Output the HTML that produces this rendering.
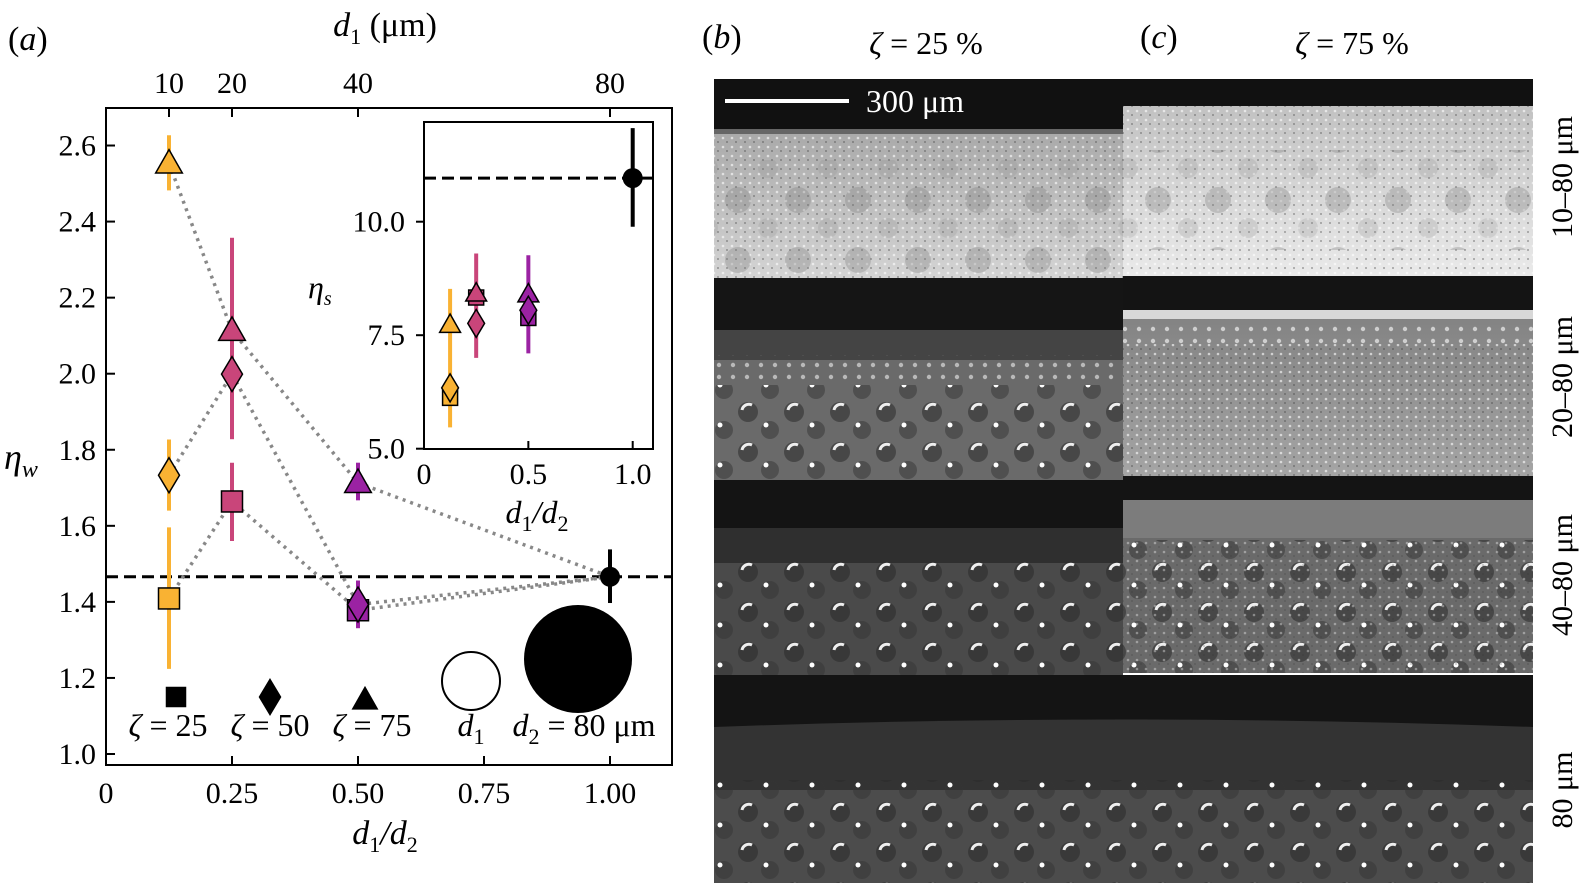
<!DOCTYPE html>
<html><head><meta charset="utf-8"><style>
body{margin:0;background:#fff;width:1580px;height:883px;overflow:hidden;font-family:"Liberation Serif",serif}
svg{position:absolute;left:0;top:0}
text{font-family:"Liberation Serif","DejaVu Serif",serif;fill:#000}
</style></head><body>
<svg id="fig" width="1580" height="883" viewBox="0 0 1580 883">
<defs>
<pattern id="bub" width="46" height="40" patternUnits="userSpaceOnUse">
<circle cx="12" cy="12" r="10" fill="#2a2a2a" opacity="0.55"/><path d="M6 10 a7 7 0 0 1 10 -5" stroke="#eee" stroke-width="3" fill="none"/>
<circle cx="34" cy="30" r="9" fill="#333" opacity="0.5"/><circle cx="30" cy="25" r="2.5" fill="#fff"/>
</pattern>
<pattern id="spots" width="60" height="60" patternUnits="userSpaceOnUse">
<circle cx="18" cy="20" r="13" fill="#777" opacity="0.3"/><circle cx="48" cy="48" r="10" fill="#888" opacity="0.2"/>
</pattern>
<pattern id="small" width="14" height="12" patternUnits="userSpaceOnUse">
<circle cx="5" cy="5" r="2.2" fill="#eee"/>
</pattern>
<pattern id="speck" width="9" height="9" patternUnits="userSpaceOnUse">
<circle cx="3" cy="3" r="1.3" fill="#fff" opacity="0.6"/><circle cx="7" cy="7" r="1" fill="#333" opacity="0.4"/>
</pattern>
<linearGradient id="g1" x1="0" y1="0" x2="0" y2="1"><stop offset="0" stop-color="#9a9a9a"/><stop offset="1" stop-color="#d4d4d4"/></linearGradient>
<linearGradient id="g2" x1="0" y1="0" x2="0" y2="1"><stop offset="0" stop-color="#bbb"/><stop offset="1" stop-color="#eaeaea"/></linearGradient>
<linearGradient id="g3" x1="0" y1="0" x2="0" y2="1"><stop offset="0" stop-color="#7a7a7a"/><stop offset="1" stop-color="#a5a5a5"/></linearGradient>
</defs>
<g id="images">
 <g>
  <rect x="714" y="79" width="409" height="199" fill="url(#g1)"/>
  <rect x="714" y="79" width="409" height="50" fill="#111"/>
  <rect x="714" y="129" width="409" height="5" fill="#666"/>
  <rect x="714" y="134" width="409" height="144" fill="url(#speck)"/>
  <rect x="714" y="160" width="409" height="118" fill="url(#spots)"/>
 </g>
 <g>
  <rect x="714" y="278" width="409" height="202" fill="#6a6a6a"/>
  <rect x="714" y="278" width="409" height="52" fill="#151515"/>
  <rect x="714" y="330" width="409" height="30" fill="#444"/>
  <rect x="714" y="355" width="409" height="30" fill="url(#small)" opacity="0.6"/>
  <rect x="714" y="385" width="409" height="95" fill="url(#bub)"/>
 </g>
 <g>
  <rect x="714" y="480" width="409" height="195" fill="#4a4a4a"/>
  <rect x="714" y="480" width="409" height="48" fill="#141414"/>
  <rect x="714" y="528" width="409" height="35" fill="#2f2f2f"/>
  <rect x="714" y="560" width="409" height="115" fill="url(#bub)"/>
 </g>
 <g>
  <rect x="1123" y="79" width="410" height="197" fill="url(#g2)"/>
  <rect x="1123" y="79" width="410" height="27" fill="#111"/>
  <rect x="1123" y="106" width="410" height="170" fill="url(#speck)"/>
  <rect x="1123" y="150" width="410" height="100" fill="url(#spots)"/>
 </g>
 <g>
  <rect x="1123" y="276" width="410" height="200" fill="url(#g3)"/>
  <rect x="1123" y="276" width="410" height="34" fill="#141414"/>
  <rect x="1123" y="310" width="410" height="9" fill="#d8d8d8"/>
  <rect x="1123" y="322" width="410" height="22" fill="url(#small)" opacity="0.7"/>
  <rect x="1123" y="344" width="410" height="132" fill="url(#speck)"/>
 </g>
 <g>
  <rect x="1123" y="476" width="410" height="197" fill="#6a6a6a"/>
  <rect x="1123" y="476" width="410" height="24" fill="#141414"/>
  <rect x="1123" y="500" width="410" height="38" fill="#7c7c7c"/>
  <rect x="1123" y="540" width="410" height="133" fill="url(#bub)"/>
  <rect x="1123" y="540" width="410" height="133" fill="url(#speck)" opacity="0.6"/>
 </g>
 <g>
  <rect x="714" y="675" width="819" height="208" fill="#4c4c4c"/>
  <rect x="714" y="675" width="819" height="52" fill="#141414"/>
  <path d="M714 727 Q1120 712 1533 727 L1533 790 L714 790 Z" fill="#333"/>
  <rect x="714" y="780" width="819" height="103" fill="url(#bub)"/>
 </g>
 <line x1="725" y1="101" x2="849" y2="101" stroke="#fff" stroke-width="4"/>
 <text x="866" y="112" font-size="32" style="fill:#fff">300 μm</text>
</g>
<text x="8" y="50" font-size="34">(<tspan font-style="italic">a</tspan>)</text>
<text x="702" y="48" font-size="34">(<tspan font-style="italic">b</tspan>)</text>
<text x="1140" y="48" font-size="34">(<tspan font-style="italic">c</tspan>)</text>
<text x="926" y="54" font-size="32" text-anchor="middle"><tspan font-style="italic">ζ</tspan> = 25 %</text>
<text x="1352" y="54" font-size="32" text-anchor="middle"><tspan font-style="italic">ζ</tspan> = 75 %</text>
<text transform="translate(1572,177) rotate(-90)" font-size="30" text-anchor="middle">10–80 μm</text>
<text transform="translate(1572,377) rotate(-90)" font-size="30" text-anchor="middle">20–80 μm</text>
<text transform="translate(1572,575) rotate(-90)" font-size="30" text-anchor="middle">40–80 μm</text>
<text transform="translate(1572,790) rotate(-90)" font-size="30" text-anchor="middle">80 μm</text>
<g id="chart"></g>
</svg>
<script>
const xVals=[0.125,0.25,0.5];
const xTicks=[0,0.25,0.5,0.75,1.0];
const xTickLabels=["0","0.25","0.50","0.75","1.00"];
const topTicks=[10,20,40,80];
const yTicks=[1.0,1.2,1.4,1.6,1.8,2.0,2.2,2.4,2.6];
const colors=["#f9b233","#c9457a","#9b22a3"];
const sqVal=[1.409,1.664,1.378];
const sqErr=[[1.224,1.596],[1.56,1.766],[1.331,1.456]];
const diVal=[1.733,1.999,1.393];
const diErr=[[1.64,1.827],[1.828,2.357],[1.331,1.456]];
const trVal=[2.553,2.113,1.713];
const trErr=[[2.482,2.627],[1.828,2.357],[1.667,1.766]];
const refVal=1.466;
const refErr=[1.397,1.538];
const inSq=[6.12,8.33,7.88];
const inDi=[6.34,7.76,8.05];
const inTr=[7.73,8.42,8.4];
const inErr=[[5.47,8.52],[7.0,9.3],[7.1,9.26]];
const inRef=10.96;
const inRefErr=[9.89,12.06];
const inXTicks=[0,0.5,1.0];
const inXLabels=["0","0.5","1.0"];
const inYTicks=[5.0,7.5,10.0];

const NS="http://www.w3.org/2000/svg";
const g=document.getElementById('chart');
function mk(t,a,p){const e=document.createElementNS(NS,t);for(const k in a)e.setAttribute(k,a[k]);(p||g).appendChild(e);return e;}
const X=v=>106+v*504, Y=v=>754-(v-1)*380.3;
const IX=v=>424+v*208.7, IY=v=>448.7-(v-5)*45.4;
const FL=106,FR=672,FT=108,FB=765;

let e=mk('rect',{x:FL,y:FT,width:FR-FL,height:FB-FT,fill:'none',stroke:'#000','stroke-width':2});

xTicks.forEach((v,i)=>{
 e=mk('line',{x1:X(v),x2:X(v),y1:FB,y2:FB-9,stroke:'#000','stroke-width':2});
 
 e=mk('text',{x:X(v),y:803,'font-size':30,'text-anchor':'middle'});e.textContent=xTickLabels[i];
 
});
topTicks.forEach(d=>{
 e=mk('line',{x1:X(d/80),x2:X(d/80),y1:FT,y2:FT+9,stroke:'#000','stroke-width':2});
 
 e=mk('text',{x:X(d/80),y:93,'font-size':30,'text-anchor':'middle'});e.textContent=d;
 
});
yTicks.forEach(v=>{
 e=mk('line',{x1:FL,x2:FL+9,y1:Y(v),y2:Y(v),stroke:'#000','stroke-width':2});
 
 e=mk('text',{x:96,y:Y(v)+10,'font-size':30,'text-anchor':'end'});e.textContent=v.toFixed(1);
 
});
e=mk('text',{x:385,y:844,'font-size':34,'text-anchor':'middle','font-style':'italic'});
e.innerHTML='d<tspan font-size="22" dy="8" font-style="normal">1</tspan><tspan dy="-8">/d</tspan><tspan font-size="22" dy="8" font-style="normal">2</tspan>';

e=mk('text',{x:385,y:36,'font-size':34,'text-anchor':'middle'});
e.innerHTML='<tspan font-style="italic">d</tspan><tspan font-size="22" dy="8">1</tspan><tspan dy="-8"> (μm)</tspan>';

e=mk('text',{x:4,y:469,'font-size':36,'font-style':'italic'});
e.innerHTML='η<tspan font-size="24" dy="8">w</tspan>';


e=mk('line',{x1:FL,x2:FR,y1:Y(refVal),y2:Y(refVal),stroke:'#000','stroke-width':3,'stroke-dasharray':'12,6'});


[sqVal,diVal,trVal].forEach((s,k)=>{
 const pts=xVals.map((x,i)=>X(x)+','+Y(s[i])).concat([X(1)+','+Y(refVal)]).join(' ');
 e=mk('polyline',{points:pts,fill:'none',stroke:'#888','stroke-width':3.5,'stroke-dasharray':'3,5'});
 
});

function marker(shape,cx,cy,size,fill,name){
 let el;
 if(shape==='sq')el=mk('rect',{x:cx-size/2,y:cy-size/2,width:size,height:size,fill:fill,stroke:'#000','stroke-width':1.5});
 else if(shape==='di')el=mk('polygon',{points:`${cx},${cy-size*0.7} ${cx+size*0.42},${cy} ${cx},${cy+size*0.7} ${cx-size*0.42},${cy}`,fill:fill,stroke:'#000','stroke-width':1.5});
 else el=mk('polygon',{points:`${cx},${cy-size*0.6} ${cx+size*0.58},${cy+size*0.42} ${cx-size*0.58},${cy+size*0.42}`,fill:fill,stroke:'#000','stroke-width':1.5});
 
}
function errbar(x,lo,hi,col,w,name){
 const el=mk('line',{x1:x,x2:x,y1:lo,y2:hi,stroke:col,'stroke-width':w});
 
}
xVals.forEach((x,i)=>{
 [sqErr,diErr,trErr].forEach(E=>errbar(X(x),Y(E[i][0]),Y(E[i][1]),colors[i],4,'error-bar'));
});
errbar(X(1),Y(refErr[0]),Y(refErr[1]),'#000',4,'reference-error-bar');
xVals.forEach((x,i)=>{
 marker('sq',X(x),Y(sqVal[i]),21,colors[i],'square-point');
 marker('di',X(x),Y(diVal[i]),25,colors[i],'diamond-point');
 marker('tr',X(x),Y(trVal[i]),23,colors[i],'triangle-point');
});
e=mk('circle',{cx:X(1),cy:Y(refVal),r:10,fill:'#000'});


marker('sq',176,697,19,'#000','legend-square');
marker('di',270,697,25,'#000','legend-diamond');
marker('tr',365,700,21,'#000','legend-triangle');
[['ζ',' = 25',168],['ζ',' = 50',270],['ζ',' = 75',372]].forEach(l=>{
 e=mk('text',{x:l[2],y:736,'font-size':32,'text-anchor':'middle'});
 e.innerHTML='<tspan font-style="italic">'+l[0]+'</tspan>'+l[1];
 
});
e=mk('circle',{cx:471,cy:681,r:29,fill:'#fff',stroke:'#000','stroke-width':2});

e=mk('circle',{cx:578,cy:659,r:54,fill:'#000'});

e=mk('text',{x:471,y:736,'font-size':32,'text-anchor':'middle','font-style':'italic'});
e.innerHTML='d<tspan font-size="22" dy="8" font-style="normal">1</tspan>';

e=mk('text',{x:584,y:736,'font-size':32,'text-anchor':'middle'});
e.innerHTML='<tspan font-style="italic">d</tspan><tspan font-size="22" dy="8">2</tspan><tspan dy="-8"> = 80 μm</tspan>';


e=mk('rect',{x:424,y:122,width:229,height:327,fill:'#fff',stroke:'#000','stroke-width':2});

inXTicks.forEach((v,i)=>{
 e=mk('line',{x1:IX(v),x2:IX(v),y1:449,y2:441,stroke:'#000','stroke-width':2});
 
 e=mk('text',{x:IX(v),y:484,'font-size':30,'text-anchor':'middle'});e.textContent=inXLabels[i];
 
});
inYTicks.forEach(v=>{
 e=mk('line',{x1:416,x2:424,y1:IY(v),y2:IY(v),stroke:'#000','stroke-width':2});
 
 e=mk('text',{x:405,y:IY(v)+10,'font-size':30,'text-anchor':'end'});e.textContent=v.toFixed(1);
 
});
e=mk('text',{x:537,y:523,'font-size':32,'text-anchor':'middle','font-style':'italic'});
e.innerHTML='d<tspan font-size="22" dy="8" font-style="normal">1</tspan><tspan dy="-8">/d</tspan><tspan font-size="22" dy="8" font-style="normal">2</tspan>';

e=mk('text',{x:308,y:298,'font-size':32,'font-style':'italic'});
e.innerHTML='η<tspan font-size="20" dy="7">s</tspan>';

e=mk('line',{x1:424,x2:653,y1:IY(inRef),y2:IY(inRef),stroke:'#000','stroke-width':3,'stroke-dasharray':'12,6'});

xVals.forEach((x,i)=>errbar(IX(x),IY(inErr[i][0]),IY(inErr[i][1]),colors[i],4,'inset-error-bar'));
errbar(IX(1),IY(inRefErr[0]),IY(inRefErr[1]),'#000',4,'inset-reference-error-bar');
xVals.forEach((x,i)=>{
 marker('sq',IX(x),IY(inSq[i]),15,colors[i],'inset-square-point');
 marker('tr',IX(x),IY(inTr[i]),18,colors[i],'inset-triangle-point');
 marker('di',IX(x),IY(inDi[i]),20,colors[i],'inset-diamond-point');
});
e=mk('circle',{cx:IX(1),cy:IY(inRef),r:10,fill:'#000'});

</script>
</body></html>
